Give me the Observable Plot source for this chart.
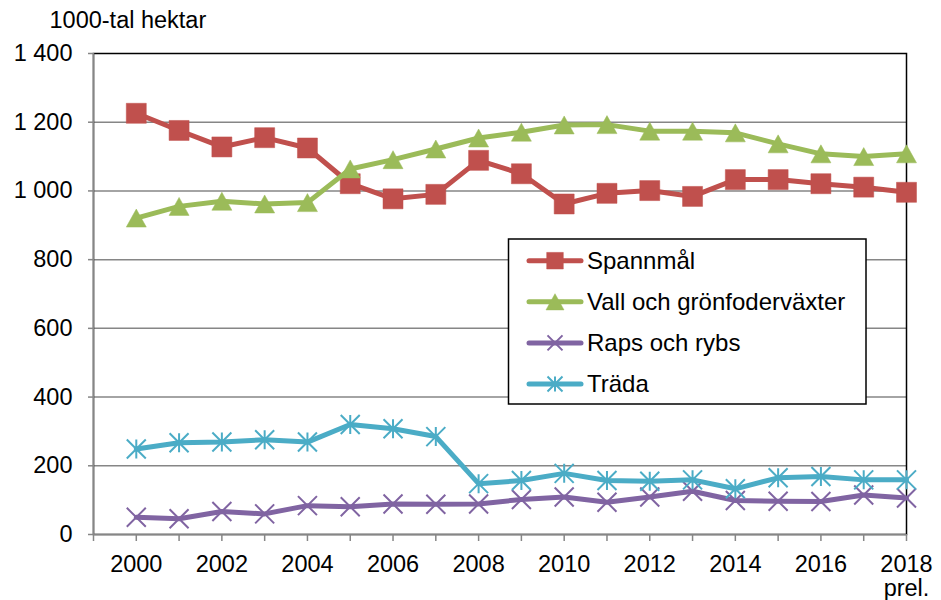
<!DOCTYPE html>
<html><head><meta charset="utf-8">
<script src="https://cdn.jsdelivr.net/npm/d3@7"></script>
<script src="https://cdn.jsdelivr.net/npm/@observablehq/plot@0.6"></script>
<style>
body{margin:0;background:#fff;}
#wrap{position:relative;width:941px;height:600px;font-family:"Liberation Sans",Arial,sans-serif;}
#legend{position:absolute;left:0;top:0;pointer-events:none;}
</style></head><body><div id="wrap"></div>
<script>
// ---- data ----
const years = [2000,2001,2002,2003,2004,2005,2006,2007,2008,2009,2010,2011,2012,2013,2014,2015,2016,2017,2018];
const spannmal = [1226,1176,1128,1155,1125,1021,977,990,1089,1050,962,993,1001,984,1033,1033,1021,1011,996];
const vall     = [921,955,970,962,966,1064,1091,1122,1154,1171,1192,1193,1174,1174,1169,1137,1108,1100,1108];
const raps     = [50,46,67,60,84,81,89,88,89,102,109,94,109,126,99,97,96,115,106];
const trada    = [249,267,269,276,269,320,308,285,148,157,178,157,155,159,133,165,169,159,159];
const seriesNames  = ["Spannmål","Vall och grönfoderväxter","Raps och rybs","Träda"];
const seriesColors = ["#C0504D","#9BBB59","#8064A2","#4BACC6"];
const yTicks = [0,200,400,600,800,1000,1200,1400];
const xTickYears = [1999,2000,2001,2002,2003,2004,2005,2006,2007,2008,2009,2010,2011,2012,2013,2014,2015,2016,2017,2018];
const xLabelYears = [2000,2002,2004,2006,2008,2010,2012,2014,2016,2018];
const yUnitLabel = "1000-tal hektar";
const lastYearNote = "prel.";

// ---- symbols (r = half width) ----
const rOf = s => Math.sqrt(s / Math.PI);
const symSquare = {draw(c, s){ const r = rOf(s); c.rect(-r, -r, 2*r, 2*r); }};
const symTri = {draw(c, s){ const r = rOf(s); c.moveTo(0, -0.9*r); c.lineTo(r, 0.9*r); c.lineTo(-r, 0.9*r); c.closePath(); }};
const symTimes = {draw(c, s){ const r = rOf(s); c.moveTo(-r,-r); c.lineTo(r,r); c.moveTo(-r,r); c.lineTo(r,-r); }};
const symStar = {draw(c, s){ const r = rOf(s); c.moveTo(-r,-r); c.lineTo(r,r); c.moveTo(-r,r); c.lineTo(r,-r); c.moveTo(0,-r); c.lineTo(0,r); }};

const seriesValues = [spannmal, vall, raps, trada];
const seriesSymbols = [symSquare, symTri, symTimes, symStar];
const seriesFilled = [true, true, false, false];
const seriesR = [10, 10, 9.5, 9.5];
const seriesLegendR = [8.3, 9, 7.5, 7.5];

const rows = [];
seriesNames.forEach((name, i) => years.forEach((yr, j) => rows.push({series: name, year: yr, value: seriesValues[i][j]})));

const gray = "#868686";
const fmt = d => d3.format(",")(d).replace(/,/g, " ");

const marks = [
  Plot.ruleY(yTicks.filter(d => d > 0 && d < 1400), {stroke: gray, strokeWidth: 1.5}),
  Plot.frame({stroke: "black", strokeWidth: 1.5}),
  Plot.ruleX([1999], {stroke: gray, strokeWidth: 1.5}),
  Plot.ruleY([0], {stroke: gray, strokeWidth: 1.5}),
  Plot.axisY(yTicks, {tickSize: 5, tickPadding: 16, tickFormat: fmt, stroke: gray, strokeWidth: 1.5, fill: "black", label: null}),
  Plot.axisX(xTickYears, {tickSize: 7, tickFormat: () => "", stroke: gray, strokeWidth: 1.5, label: null}),
  Plot.axisX(xLabelYears, {tickSize: 0, tickPadding: 21, fill: "black", label: null,
    tickFormat: d => d === 2018 ? `${d}\n${lastYearNote}` : String(d)}),
  Plot.text([yUnitLabel], {text: d => d, frameAnchor: "top-left", dx: -44, dy: -33.5, textAnchor: "start", lineAnchor: "middle", fill: "black"})
];
seriesNames.forEach((name, i) => {
  const data = rows.filter(r => r.series === name);
  marks.push(Plot.line(data, {x: "year", y: "value", stroke: seriesColors[i], strokeWidth: 5, strokeLinejoin: "round", strokeLinecap: "round"}));
  marks.push(Plot.dot(data, {x: "year", y: "value", symbol: seriesSymbols[i], r: seriesR[i],
    fill: seriesFilled[i] ? seriesColors[i] : "none", stroke: seriesColors[i], strokeWidth: seriesFilled[i] ? 0.5 : 2}));
});

const chart = Plot.plot({
  width: 941, height: 600,
  marginLeft: 93, marginRight: 35, marginTop: 53, marginBottom: 66,
  x: {domain: [1999, 2018]},
  y: {domain: [0, 1400]},
  style: {fontFamily: '"Liberation Sans", Arial, sans-serif', fontSize: "23.5px", color: "black", background: "white", overflow: "visible"},
  marks
});
document.getElementById("wrap").appendChild(chart);

// ---- legend overlay ----
const lg = d3.select("#wrap").append("svg").attr("id", "legend").attr("width", 941).attr("height", 600);
lg.append("rect").attr("x", 508.5).attr("y", 239).attr("width", 357.5).attr("height", 165)
  .attr("fill", "white").attr("stroke", "black").attr("stroke-width", 1.5);
seriesNames.forEach((name, i) => {
  const cy = 260.7 + i * 41.1;
  const g = lg.append("g");
  g.append("line").attr("x1", 529).attr("x2", 581).attr("y1", cy).attr("y2", cy)
    .attr("stroke", seriesColors[i]).attr("stroke-width", 5).attr("stroke-linecap", "round");
  const r = seriesLegendR[i];
  g.append("path").attr("transform", `translate(555,${cy})`)
    .attr("d", d3.symbol(seriesSymbols[i], Math.PI * r * r)())
    .attr("fill", seriesFilled[i] ? seriesColors[i] : "none")
    .attr("stroke", seriesColors[i]).attr("stroke-width", seriesFilled[i] ? 0.5 : 2);
  g.append("text").attr("x", 587).attr("y", cy + 8.4).attr("font-size", "24px")
    .attr("font-family", '"Liberation Sans", Arial, sans-serif').attr("fill", "black").text(name);
});
</script></body></html>
